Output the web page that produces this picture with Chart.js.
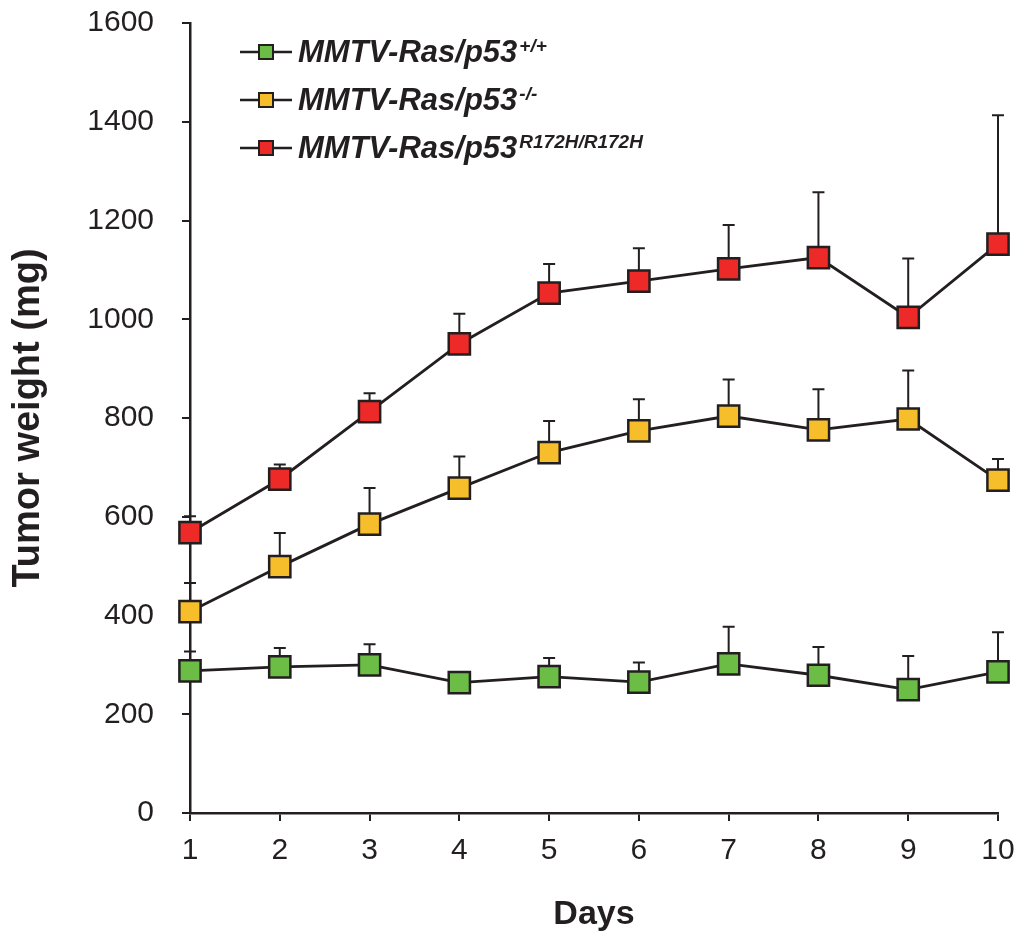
<!DOCTYPE html>
<html>
<head>
<meta charset="utf-8">
<script src="https://cdn.jsdelivr.net/npm/chart.js@4/dist/chart.umd.min.js"></script>
<style>
html, body { margin: 0; padding: 0; background: #fff; }
#wrap { width: 1019px; height: 936px; }
</style>
</head>
<body>
<div id="wrap"><canvas id="chart"></canvas></div>
<script>
// days on the x axis
var days = [1, 2, 3, 4, 5, 6, 7, 8, 9, 10];

// mean tumor weight (mg) and upper error (mg) per genotype
var wildType    = [288, 296, 300, 264, 276, 265, 302, 279, 250, 286];
var wildTypeErr = [39, 38, 42, 8, 38, 40, 75, 57, 68, 80];
var nullP53     = [408, 499, 585, 658, 730, 774, 804, 776, 798, 674];
var nullP53Err  = [58, 68, 73, 64, 64, 64, 74, 82, 98, 43];
var mutP53      = [568, 676, 813, 950, 1053, 1077, 1102, 1125, 1004, 1152];
var mutP53Err   = [33, 30, 37, 61, 59, 67, 89, 132, 119, 261];

var legendBase = 'MMTV-Ras/p53';
var legendSups = ['+/+', '-/-', 'R172H/R172H'];

var FONT = '"Liberation Sans", Arial, Helvetica, sans-serif';
var INK = '#231f20';

function toPoints(vals) {
    return days.map(function (d, i) { return { x: d, y: vals[i] }; });
}

function series(label, vals, errs, color) {
    return {
        label: label,
        data: toPoints(vals),
        errors: errs,
        borderColor: INK,
        borderWidth: 2.8,
        backgroundColor: color,
        pointStyle: 'rect',
        pointRadius: 15,
        pointBorderWidth: 2.5,
        pointBorderColor: INK,
        pointBackgroundColor: color,
        fill: false,
        tension: 0,
        clip: false
    };
}

// upward error bars with caps, drawn under the markers
var errorBars = {
    id: 'errorBars',
    beforeDatasetsDraw: function (chart) {
        var ctx = chart.ctx;
        var yScale = chart.scales.y;
        ctx.save();
        ctx.strokeStyle = INK;
        ctx.lineWidth = 2;
        chart.data.datasets.forEach(function (ds, i) {
            var meta = chart.getDatasetMeta(i);
            meta.data.forEach(function (pt, j) {
                var top = yScale.getPixelForValue(ds.data[j].y + ds.errors[j]);
                ctx.beginPath();
                ctx.moveTo(pt.x, pt.y);
                ctx.lineTo(pt.x, top);
                ctx.moveTo(pt.x - 6, top);
                ctx.lineTo(pt.x + 6, top);
                ctx.stroke();
            });
        });
        ctx.restore();
    }
};

// legend with superscript genotypes
var supLegend = {
    id: 'supLegend',
    afterDraw: function (chart) {
        var ctx = chart.ctx;
        ctx.save();
        chart.data.datasets.forEach(function (ds, i) {
            var base = 62 + i * 48;
            var mid = base - 10;
            ctx.strokeStyle = INK;
            ctx.lineWidth = 2.5;
            ctx.beginPath();
            ctx.moveTo(240, mid);
            ctx.lineTo(292, mid);
            ctx.stroke();
            ctx.fillStyle = ds.backgroundColor;
            ctx.lineWidth = 2;
            ctx.fillRect(259, mid - 7, 14, 14);
            ctx.strokeRect(259, mid - 7, 14, 14);

            ctx.fillStyle = INK;
            ctx.textBaseline = 'alphabetic';
            ctx.textAlign = 'left';
            ctx.font = 'italic bold 31px ' + FONT;
            ctx.fillText(legendBase, 298, base);
            var w = ctx.measureText(legendBase).width;
            ctx.font = 'italic bold 19px ' + FONT;
            ctx.fillText(legendSups[i], 298 + w + 2, base - 10);
        });
        ctx.restore();
    }
};

var ctx = document.getElementById('chart');
new Chart(ctx, {
    type: 'line',
    data: {
        datasets: [
            series(legendBase + legendSups[0], wildType, wildTypeErr, '#6cbd45'),
            series(legendBase + legendSups[1], nullP53, nullP53Err, '#f6be2b'),
            series(legendBase + legendSups[2], mutP53, mutP53Err, '#ee2a29')
        ]
    },
    options: {
        responsive: true,
        maintainAspectRatio: false,
        animation: false,
        events: [],
        layout: { padding: { top: 23, right: 21, bottom: 0, left: 0 } },
        plugins: {
            legend: { display: false },
            tooltip: { enabled: false }
        },
        scales: {
            x: {
                type: 'linear',
                min: 1,
                max: 10,
                afterFit: function (s) { s.height = 123; s.paddingLeft = 0; s.paddingRight = 0; },
                ticks: {
                    stepSize: 1,
                    color: INK,
                    padding: 12,
                    font: { family: FONT, size: 30 },
                    callback: function (v) { return String(v); }
                },
                grid: {
                    drawOnChartArea: false,
                    drawTicks: true,
                    tickLength: 8,
                    color: INK,
                    lineWidth: 2
                },
                border: { color: INK, width: 2.5 },
                title: {
                    display: true,
                    text: 'Days',
                    color: INK,
                    padding: { top: 0, bottom: 1 },
                    font: { family: FONT, size: 34, weight: 'bold' }
                }
            },
            y: {
                min: 0,
                max: 1600,
                afterFit: function (s) { s.width = 190; s.paddingTop = 0; s.paddingBottom = 0; },
                ticks: {
                    stepSize: 200,
                    color: INK,
                    padding: 28,
                    font: { family: FONT, size: 30 },
                    callback: function (v) { return String(v); }
                },
                grid: {
                    drawOnChartArea: false,
                    drawTicks: true,
                    tickLength: 8,
                    color: INK,
                    lineWidth: 2
                },
                border: { color: INK, width: 2.5 },
                title: {
                    display: true,
                    text: 'Tumor weight (mg)',
                    color: INK,
                    padding: { top: 6, bottom: 0 },
                    font: { family: FONT, size: 38, weight: 'bold' }
                }
            }
        }
    },
    plugins: [errorBars, supLegend]
});
</script>
</body>
</html>
